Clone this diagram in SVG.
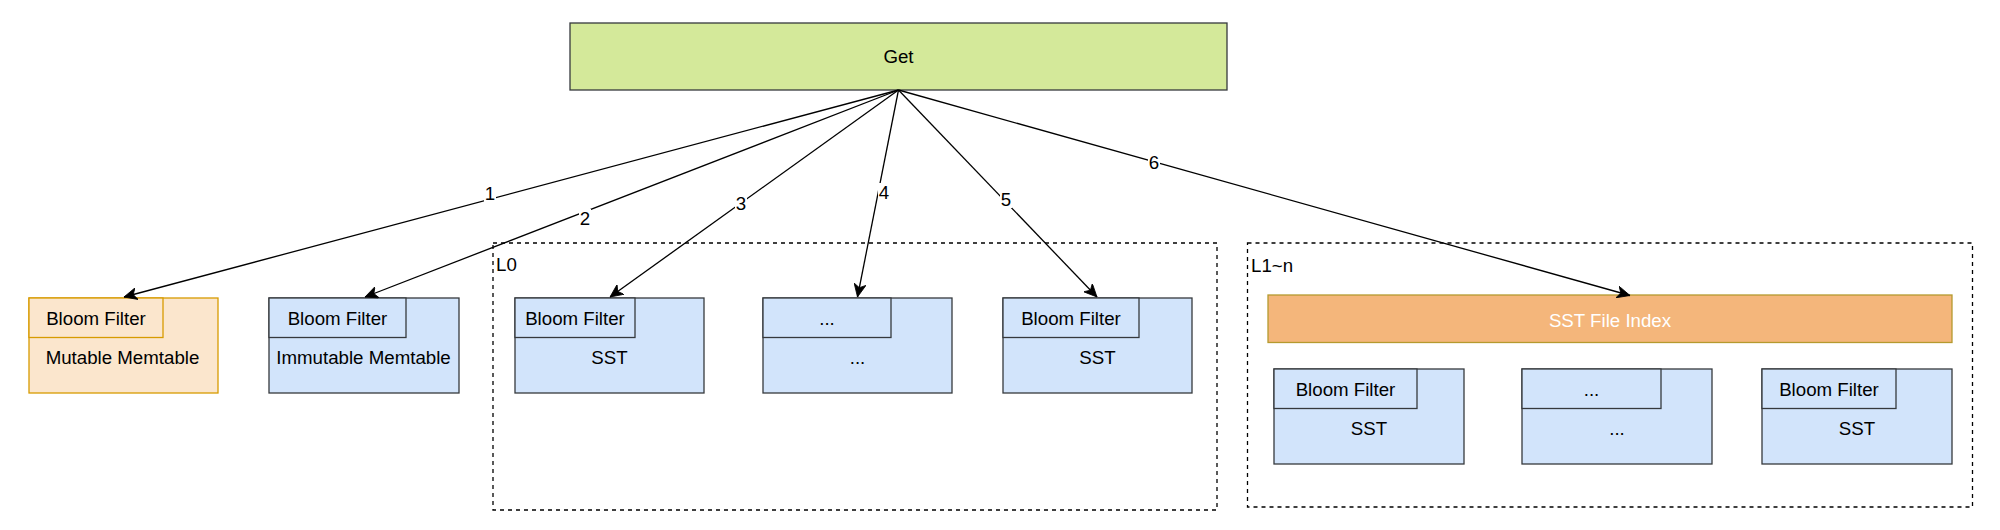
<svg xmlns="http://www.w3.org/2000/svg" width="2000" height="530" viewBox="0 0 2000 530">
  <style>
    text { font-family: "Liberation Sans", Arial, Helvetica, sans-serif; font-size: 18.7px; fill: #000; }
    .c { text-anchor: middle; }
    .blue { fill: #d2e4fb; stroke: #36393d; stroke-width: 1.3; }
    .orange { fill: #fbe6cd; stroke: #d79b00; stroke-width: 1.3; }
    .get { fill: #d4e99a; stroke: #36393d; stroke-width: 1.3; }
    .index { fill: #f4b67b; stroke: #b59a2e; stroke-width: 1.3; }
    .group { fill: none; stroke: #000; stroke-width: 1.3; stroke-dasharray: 4 4; }
    .edge { fill: none; stroke: #000; stroke-width: 1.3; marker-end: url(#arrow); }
    .lblbg { fill: #fff; }
    .white { fill: #fff; }
  </style>
  <defs>
    <marker id="arrow" markerUnits="userSpaceOnUse" viewBox="0 0 13 12" refX="13" refY="6" markerWidth="13" markerHeight="12" orient="auto">
      <path d="M13,6 L0,0 L3.5,6 L0,12 Z" fill="#000" stroke="#000" stroke-width="0.8"/>
    </marker>
  </defs>
  <rect x="0" y="0" width="2000" height="530" fill="#fff"/>

  <g id="group-L0">
    <rect class="group" x="493" y="243" width="724" height="267"/>
    <text x="496" y="271">L0</text>
  </g>
  <g id="group-L1n">
    <rect class="group" x="1247.5" y="243" width="725" height="264"/>
    <text x="1251" y="272">L1~n</text>
  </g>

  <g id="node-get">
    <rect class="get" x="570" y="23" width="657" height="67"/>
    <text class="c" x="898.5" y="63">Get</text>
  </g>

  <g id="node-mutable">
    <rect class="orange" x="29" y="298" width="189" height="95"/>
    <rect class="orange" x="29" y="298" width="134" height="39.5"/>
    <text class="c" x="96" y="325">Bloom Filter</text>
    <text class="c" x="122.5" y="364">Mutable Memtable</text>
  </g>

  <g id="node-immutable">
    <rect class="blue" x="269" y="298" width="190" height="95"/>
    <rect class="blue" x="269" y="298" width="137" height="39.5"/>
    <text class="c" x="337.5" y="325">Bloom Filter</text>
    <text class="c" x="363.5" y="364">Immutable Memtable</text>
  </g>

  <g id="node-l0-sst1">
    <rect class="blue" x="515" y="298" width="189" height="95"/>
    <rect class="blue" x="515" y="298" width="120" height="39.5"/>
    <text class="c" x="575" y="325">Bloom Filter</text>
    <text class="c" x="609.5" y="364">SST</text>
  </g>

  <g id="node-l0-more">
    <rect class="blue" x="763" y="298" width="189" height="95"/>
    <rect class="blue" x="763" y="298" width="128" height="39.5"/>
    <text class="c" x="827" y="325">...</text>
    <text class="c" x="857.5" y="364">...</text>
  </g>

  <g id="node-l0-sst3">
    <rect class="blue" x="1003" y="298" width="189" height="95"/>
    <rect class="blue" x="1003" y="298" width="136" height="39.5"/>
    <text class="c" x="1071" y="325">Bloom Filter</text>
    <text class="c" x="1097.5" y="364">SST</text>
  </g>

  <g id="node-index">
    <rect class="index" x="1268" y="295" width="684" height="47.5"/>
    <text class="c white" x="1610" y="327">SST File Index</text>
  </g>

  <g id="node-l1-sst1">
    <rect class="blue" x="1274" y="369" width="190" height="95"/>
    <rect class="blue" x="1274" y="369" width="143" height="39.5"/>
    <text class="c" x="1345.5" y="396">Bloom Filter</text>
    <text class="c" x="1369" y="435">SST</text>
  </g>

  <g id="node-l1-more">
    <rect class="blue" x="1522" y="369" width="190" height="95"/>
    <rect class="blue" x="1522" y="369" width="139" height="39.5"/>
    <text class="c" x="1591.5" y="396">...</text>
    <text class="c" x="1617" y="435">...</text>
  </g>

  <g id="node-l1-sst3">
    <rect class="blue" x="1762" y="369" width="190" height="95"/>
    <rect class="blue" x="1762" y="369" width="134" height="39.5"/>
    <text class="c" x="1829" y="396">Bloom Filter</text>
    <text class="c" x="1857" y="435">SST</text>
  </g>

  <g id="connectors">
    <path class="edge" d="M898.5,90 L124,297"/>
    <path class="edge" d="M898.5,90 L365,297"/>
    <path class="edge" d="M898.5,90 L610,297"/>
    <path class="edge" d="M898.5,90 L857.5,297"/>
    <path class="edge" d="M898.5,90 L1097,297"/>
    <path class="edge" d="M898.5,90 L1630,295.5"/>
    <rect class="lblbg" x="484" y="184" width="12" height="18"/>
    <text class="c" x="490" y="199.5">1</text>
    <rect class="lblbg" x="579" y="209" width="12" height="18"/>
    <text class="c" x="585" y="224.5">2</text>
    <rect class="lblbg" x="735" y="194" width="12" height="18"/>
    <text class="c" x="741" y="209.5">3</text>
    <rect class="lblbg" x="878" y="183" width="12" height="18"/>
    <text class="c" x="884" y="198.5">4</text>
    <rect class="lblbg" x="1000" y="190" width="12" height="18"/>
    <text class="c" x="1006" y="205.5">5</text>
    <rect class="lblbg" x="1148" y="153" width="12" height="18"/>
    <text class="c" x="1154" y="168.5">6</text>
  </g>
</svg>
